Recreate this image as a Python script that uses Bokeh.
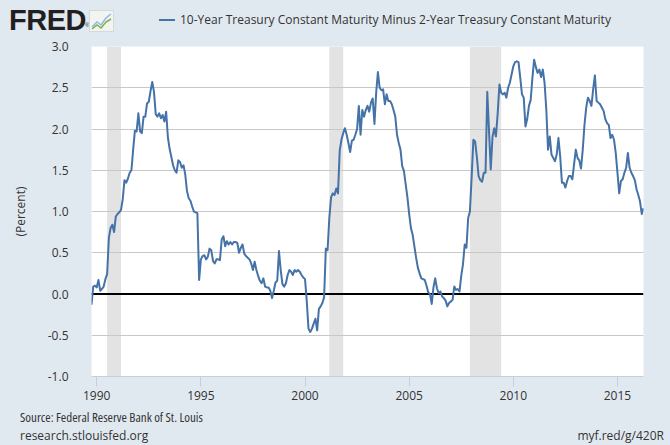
from bokeh.plotting import figure
from bokeh.layouts import column
from bokeh.models import (ColumnDataSource, Range1d, FixedTicker, NumeralTickFormatter,
                          BoxAnnotation, Span, Div)
from bokeh.embed import file_html
from bokeh.resources import INLINE

# ---- data: monthly 10Y minus 2Y spread (percent), Oct 1989 - Apr 2016 ----
start_year, start_month = 1989, 10
spread_1989 = [-0.13, 0.09, 0.10]
spread_1990 = [0.08, 0.17, 0.04, 0.06, 0.09, 0.18, 0.24, 0.68, 0.80, 0.84, 0.75, 0.94]
spread_1991 = [0.97, 0.99, 1.02, 1.15, 1.38, 1.35, 1.40, 1.47, 1.50, 1.75, 1.98, 1.97]
spread_1992 = [2.19, 1.97, 1.95, 2.15, 2.15, 2.31, 2.33, 2.46, 2.57, 2.45, 2.18, 2.15]
spread_1993 = [2.19, 2.13, 2.17, 2.09, 2.21, 1.90, 1.76, 1.66, 1.56, 1.50, 1.47, 1.62]
spread_1994 = [1.60, 1.53, 1.56, 1.45, 1.25, 1.16, 1.13, 1.06, 1.00, 0.99, 0.98, 0.17]
spread_1995 = [0.42, 0.46, 0.47, 0.42, 0.45, 0.55, 0.53, 0.40, 0.37, 0.42, 0.42, 0.41]
spread_1996 = [0.66, 0.70, 0.58, 0.64, 0.60, 0.63, 0.60, 0.63, 0.63, 0.62, 0.50, 0.56]
spread_1997 = [0.60, 0.49, 0.46, 0.44, 0.42, 0.37, 0.29, 0.39, 0.29, 0.22, 0.16, 0.13]
spread_1998 = [0.19, 0.09, 0.08, 0.08, 0.04, -0.05, 0.04, 0.14, 0.16, 0.52, 0.29, 0.12]
spread_1999 = [0.09, 0.13, 0.23, 0.29, 0.27, 0.23, 0.29, 0.27, 0.29, 0.27, 0.23, 0.20]
spread_2000 = [0.18, -0.08, -0.42, -0.46, -0.42, -0.36, -0.30, -0.44, -0.18, -0.15, -0.11, -0.04]
spread_2001 = [0.55, 0.53, 0.92, 1.17, 1.22, 1.20, 1.28, 1.22, 1.74, 1.87, 1.95, 2.01]
spread_2002 = [1.93, 1.83, 1.72, 1.86, 1.87, 1.93, 2.00, 2.28, 1.93, 2.23, 2.15, 2.23]
spread_2003 = [2.28, 2.21, 2.32, 2.37, 2.06, 2.44, 2.69, 2.50, 2.47, 2.48, 2.30, 2.42]
spread_2004 = [2.34, 2.34, 2.30, 2.23, 2.15, 1.93, 1.83, 1.75, 1.55, 1.49, 1.33, 1.17]
spread_2005 = [0.97, 0.80, 0.72, 0.58, 0.44, 0.32, 0.25, 0.19, 0.18, 0.17, 0.10, 0.02]
spread_2006 = [0.00, -0.12, 0.08, 0.19, 0.07, 0.01, 0.03, -0.03, -0.05, -0.08, -0.15, -0.11]
spread_2007 = [-0.09, -0.07, 0.09, 0.05, 0.06, 0.03, 0.22, 0.36, 0.60, 0.56, 0.92, 1.00]
spread_2008 = [1.42, 1.87, 1.85, 1.66, 1.43, 1.38, 1.36, 1.47, 1.47, 2.45, 1.98, 1.51]
spread_2009 = [1.90, 2.01, 1.91, 2.19, 2.54, 2.44, 2.42, 2.44, 2.38, 2.50, 2.56, 2.66]
spread_2010 = [2.76, 2.81, 2.82, 2.81, 2.62, 2.42, 2.38, 2.03, 2.12, 2.28, 2.35, 2.62]
spread_2011 = [2.84, 2.75, 2.68, 2.72, 2.63, 2.72, 2.56, 2.24, 1.75, 1.91, 1.69, 1.65]
spread_2012 = [1.61, 1.69, 1.89, 1.67, 1.35, 1.35, 1.29, 1.37, 1.43, 1.43, 1.39, 1.57]
spread_2013 = [1.75, 1.65, 1.62, 1.52, 1.75, 2.05, 2.26, 2.38, 2.34, 2.28, 2.48, 2.65]
spread_2014 = [2.34, 2.32, 2.30, 2.26, 2.22, 2.12, 2.07, 2.05, 1.89, 1.93, 1.87, 1.71]
spread_2015 = [1.47, 1.22, 1.37, 1.39, 1.47, 1.53, 1.71, 1.53, 1.47, 1.43, 1.38, 1.27]
spread_2016 = [1.20, 1.12, 0.97, 1.04]

recession_starts = [(1990, 7), (2001, 3), (2007, 12)]
recession_ends = [(1991, 3), (2001, 11), (2009, 6)]

x_tick_years = [1990, 1995, 2000, 2005, 2010, 2015]
y_ticks = [-1.0, -0.5, 0.0, 0.5, 1.0, 1.5, 2.0, 2.5, 3.0]

series_name = "10-Year Treasury Constant Maturity Minus 2-Year Treasury Constant Maturity"
source_text = "Source: Federal Reserve Bank of St. Louis"
site_text = "research.stlouisfed.org"
link_text = "myf.red/g/420R"

# ---- build ----
spread = (spread_1989 + spread_1990 + spread_1991 + spread_1992 + spread_1993 + spread_1994 +
          spread_1995 + spread_1996 + spread_1997 + spread_1998 + spread_1999 + spread_2000 +
          spread_2001 + spread_2002 + spread_2003 + spread_2004 + spread_2005 + spread_2006 +
          spread_2007 + spread_2008 + spread_2009 + spread_2010 + spread_2011 + spread_2012 +
          spread_2013 + spread_2014 + spread_2015 + spread_2016)
months = [start_year + (start_month - 1 + k) / 12.0 for k in range(len(spread))]
src = ColumnDataSource(dict(t=months, v=spread))


def frac(ym):
    return ym[0] + (ym[1] - 1) / 12.0


BG = "#e1e9f0"
TXT = "#333333"
FONT = "Open Sans"
LINE = "#4572a7"
W = 670

p = figure(width=W, height=372, output_backend="svg", toolbar_location=None,
           x_range=Range1d(months[0], months[-1]), y_range=Range1d(y_ticks[0], y_ticks[-1]),
           min_border_left=91, min_border_right=27, min_border_top=10, min_border_bottom=32,
           margin=0)
p.background_fill_color = "white"
p.border_fill_color = BG
p.outline_line_color = None

for s, e in zip(recession_starts, recession_ends):
    p.add_layout(BoxAnnotation(left=frac(s), right=frac(e), fill_color="#e3e3e3",
                               fill_alpha=1.0, line_color=None, level="image"))

p.xgrid.visible = False
p.ygrid.grid_line_color = "#c8c8c8"
p.ygrid.grid_line_width = 1
p.ygrid.ticker = FixedTicker(ticks=y_ticks)

p.add_layout(Span(location=0, dimension="width", line_color="black", line_width=2.2,
                  level="underlay"))

line = p.line("t", "v", source=src, line_color=LINE, line_width=2, line_join="round")

xa = p.xaxis[0]
xa.ticker = FixedTicker(ticks=x_tick_years)
xa.formatter = NumeralTickFormatter(format="0")
xa.axis_line_color = "#c0d0e0"
xa.major_tick_line_color = "#c0d0e0"
xa.major_tick_out = 10
xa.major_tick_in = 0
xa.minor_tick_line_color = None
xa.major_label_standoff = 4
xa.major_label_text_font = FONT
xa.major_label_text_font_size = "12px"
xa.major_label_text_color = TXT

ya = p.yaxis[0]
ya.ticker = FixedTicker(ticks=y_ticks)
ya.formatter = NumeralTickFormatter(format="0.0")
ya.axis_line_color = None
ya.major_tick_line_color = None
ya.minor_tick_line_color = None
ya.major_tick_out = 0
ya.major_tick_in = 0
ya.major_label_standoff = 23
ya.major_label_text_font = FONT
ya.major_label_text_font_size = "12px"
ya.major_label_text_color = TXT
ya.axis_label = "(Percent)"
ya.axis_label_text_font = FONT
ya.axis_label_text_font_size = "12px"
ya.axis_label_text_font_style = "normal"
ya.axis_label_text_color = TXT
ya.axis_label_standoff = 16

icon_svg = (
    '<svg style="position:absolute;left:89px;top:10px" width="25" height="22">'
    '<rect x="0.5" y="0.5" width="24" height="21" fill="#f2f4f2" stroke="#d6d9d6"/>'
    '<polyline points="3,17 8,12 12,15 17,8 22,4" fill="none" stroke="#8fb8df" stroke-width="1.5"/>'
    '<polyline points="3,19 8,15 12,18 17,12 22,9" fill="none" stroke="#7fb04a" stroke-width="1.5"/>'
    '</svg>'
)

HEAD_H = 36
FOOT_H = 37

header = Div(width=W, height=HEAD_H, margin=0, styles={"background-color": BG}, text=(
    '<div style="position:relative;width:%dpx;height:%dpx;overflow:visible;">' % (W, HEAD_H) +
    '<span style="position:absolute;left:9px;top:6px;font-family:\'Liberation Sans\';'
    'font-weight:bold;font-size:29px;line-height:29px;color:#231f20;letter-spacing:-0.5px;">FRED</span>'
    '<span style="position:absolute;left:85px;top:22px;font-family:\'Liberation Sans\';'
    'font-size:6px;line-height:6px;color:#231f20;">&reg;</span>' + icon_svg +
    '<span style="position:absolute;left:159px;top:19px;width:16px;height:0;'
    'border-top:2px solid %s;"></span>' % LINE +
    '<span style="position:absolute;left:180px;top:11px;font-family:\'Open Sans\';'
    'font-size:12px;line-height:17px;color:%s;white-space:nowrap;">%s</span>' % (TXT, series_name) +
    '</div>'))

footer = Div(width=W, height=FOOT_H, margin=0, styles={"background-color": BG}, text=(
    '<div style="position:relative;width:%dpx;height:%dpx;">' % (W, FOOT_H) +
    '<span style="position:absolute;left:20px;top:1px;font-family:\'Liberation Sans Narrow\','
    '\'Open Sans\';font-stretch:75%%;font-weight:normal;font-size:13px;line-height:17px;'
    'color:%s;white-space:nowrap;">%s</span>' % (TXT, source_text) +
    '<span style="position:absolute;left:20px;top:19px;font-family:\'Open Sans\';'
    'font-size:12px;line-height:17px;color:%s;white-space:nowrap;">%s</span>' % (TXT, site_text) +
    '<span style="position:absolute;right:6px;top:19px;font-family:\'Open Sans\';'
    'font-size:12px;line-height:17px;color:%s;white-space:nowrap;">%s</span>' % (TXT, link_text) +
    '</div>'))

layout = column(header, p, footer, spacing=0, margin=0, styles={"background-color": BG})

open("out.html", "w").write(file_html(layout, INLINE))
